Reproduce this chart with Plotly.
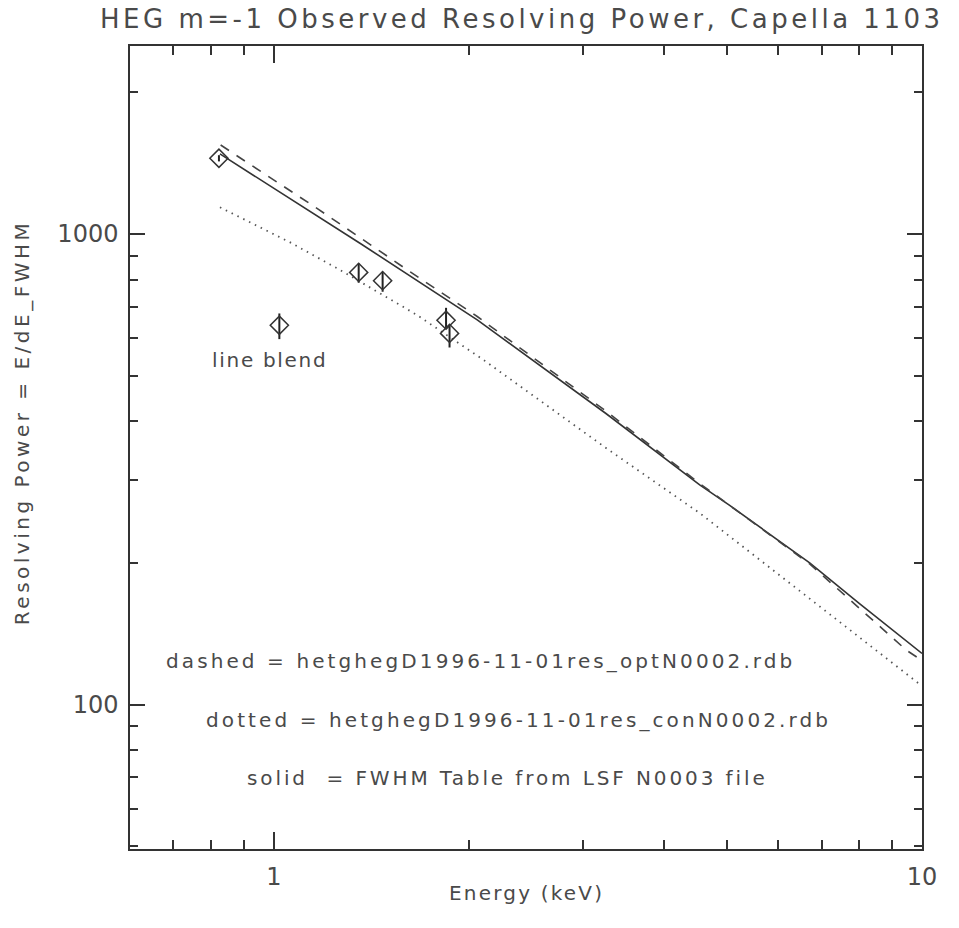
import plotly.graph_objects as go

# ---- data ----
energy_solid = [0.826, 1.0, 1.36, 2.06, 3.25, 4.54, 5.05, 6.71, 8.0, 10.0]
rp_solid = [1480, 1250, 955, 657, 416, 293, 265, 200, 164, 128.4]

energy_dashed = [0.828, 1.0, 1.166, 1.624, 2.06, 3.25, 4.54, 6.71, 8.0, 9.46, 10.0]
rp_dashed = [1546, 1300, 1134, 831, 668, 421, 295, 199, 160, 130.5, 124]

energy_dotted = [0.826, 1.06, 1.267, 1.663, 2.107, 3.264, 4.544, 5.024, 6.714, 9.92, 10.0]
rp_dotted = [1140, 960, 838, 673, 540, 350, 255, 229, 168, 110.5, 109.5]

energy_obs = [0.823, 1.02, 1.352, 1.472, 1.844, 1.867]
rp_obs = [1449, 640, 829, 796, 656, 615]
rp_err_plus = [22, 38, 37, 35, 41, 25]
rp_err_minus = [22, 42, 41, 42, 26, 41]

x_major = [1, 10]
x_major_text = ["1", "10"]
x_minor = [0.7, 0.8, 0.9, 2, 3, 4, 5, 6, 7, 8, 9]
y_major = [100, 1000]
y_major_text = ["100", "1000"]
y_minor = [50, 60, 70, 80, 90, 200, 300, 400, 500, 600, 700, 800, 900, 2000]

title_text = "HEG m=-1 Observed Resolving Power, Capella 1103"
xlabel_text = "Energy (keV)"
ylabel_text = "Resolving Power = E/dE_FWHM"
note_dashed = "dashed = hetghegD1996-11-01res_optN0002.rdb"
note_dotted = "dotted = hetghegD1996-11-01res_conN0002.rdb"
note_solid = "solid\u00a0 = FWHM Table from LSF N0003 file"
blend_text = "line blend"

FONT = "DejaVu Sans"
TXT = "#4a4a4a"
LINE = "#333333"


def spaced(t, px):
    return f'<span style="letter-spacing:{px}px">{t}</span>'


fig = go.Figure()
fig.add_trace(go.Scatter(x=energy_solid, y=rp_solid, mode="lines",
                         line=dict(color=LINE, width=1.6), showlegend=False))
fig.add_trace(go.Scatter(x=energy_dashed, y=rp_dashed, mode="lines",
                         line=dict(color="#444444", width=1.6, dash="10px,9px"),
                         showlegend=False))
fig.add_trace(go.Scatter(x=energy_dotted, y=rp_dotted, mode="lines",
                         line=dict(color="#555555", width=1.8, dash="1.5px,5px"),
                         showlegend=False))
fig.add_trace(go.Scatter(
    x=energy_obs, y=rp_obs, mode="markers",
    marker=dict(symbol="diamond-open", size=14, color="#333333",
                line=dict(width=1.5, color="#333333")),
    error_y=dict(type="data", array=rp_err_plus, arrayminus=rp_err_minus,
                 color="#222222", thickness=2, width=0),
    showlegend=False))

W, H = 959, 928
L, T = 130, 46
R = W - 922
B = H - 848.7


def px(xs):
    return (xs - L) / (W - L - R)


def py(ys):
    return (H - B - ys) / (H - T - B)


ann = [
    dict(text=spaced(title_text, 3.5), x=px(521.5), y=py(19), size=26, xa="center"),
    dict(text=spaced(xlabel_text, 2.2), x=px(526), y=py(893), size=20, xa="center"),
    dict(text=spaced(note_dashed, 3.1), x=px(164), y=py(661), size=20, xa="left"),
    dict(text=spaced(note_dotted, 3.1), x=px(204), y=py(720), size=20, xa="left"),
    dict(text=spaced(note_solid, 2.9), x=px(245), y=py(778), size=20, xa="left"),
    dict(text=spaced(blend_text, 1.7), x=px(269), y=py(360), size=20, xa="center"),
]
annotations = [
    dict(text=a["text"], x=a["x"], y=a["y"], xref="paper", yref="paper",
         xanchor=a["xa"], yanchor="middle", showarrow=False,
         font=dict(family=FONT, size=a["size"], color=TXT))
    for a in ann
]
annotations.append(dict(text=spaced(ylabel_text, 3.5), x=px(22), y=py(423),
                        xref="paper", yref="paper", xanchor="center",
                        yanchor="middle", textangle=-90, showarrow=False,
                        font=dict(family=FONT, size=20, color=TXT)))

fig.update_layout(
    width=W, height=H,
    margin=dict(l=L, r=R, t=T, b=B, autoexpand=False),
    paper_bgcolor="white", plot_bgcolor="white",
    annotations=annotations,
    xaxis=dict(type="log", range=[-0.2218, 1.0], showgrid=False, zeroline=False,
               showline=True, linecolor=LINE, linewidth=1.5, mirror="ticks",
               ticks="inside", ticklen=17, tickwidth=1.5, tickcolor=LINE,
               tickmode="array", tickvals=x_major, ticktext=x_major_text,
               tickfont=dict(family=FONT, size=24, color=TXT),
               ticklabelstandoff=5,
               minor=dict(ticks="inside", ticklen=9, tickwidth=1.5, tickcolor=LINE,
                          tickmode="array", tickvals=x_minor, showgrid=False)),
    yaxis=dict(type="log", range=[1.693, 3.3997], showgrid=False, zeroline=False,
               showline=True, linecolor=LINE, linewidth=1.5, mirror="ticks",
               ticks="inside", ticklen=15, tickwidth=1.5, tickcolor=LINE,
               tickmode="array", tickvals=y_major, ticktext=y_major_text,
               tickfont=dict(family=FONT, size=24, color=TXT),
               ticklabelstandoff=5,
               minor=dict(ticks="inside", ticklen=8, tickwidth=1.5, tickcolor=LINE,
                          tickmode="array", tickvals=y_minor, showgrid=False)),
)

fig.write_html("out.html",
               config={"displayModeBar": False},
               post_script="document.body.style.margin='0';document.body.style.padding='0';")
